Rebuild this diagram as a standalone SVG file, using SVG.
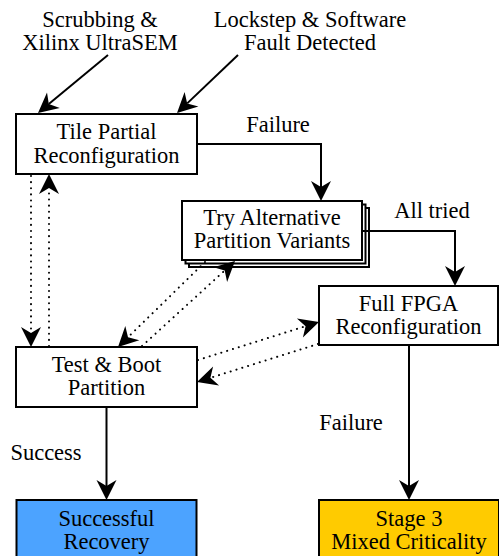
<svg xmlns="http://www.w3.org/2000/svg" width="499" height="556" viewBox="0 0 499 556">
<style>
.t{font-family:"Liberation Serif","Times New Roman",serif;font-size:22.5px;fill:#000;text-anchor:middle}
.box{fill:#fff;stroke:#000;stroke-width:2}
.ln{fill:none;stroke:#000;stroke-width:2}
.dot{fill:none;stroke:#000;stroke-width:2;stroke-dasharray:0.1 6;stroke-linecap:round}
.ah{fill:#000;stroke:none}
</style>
<g id="labels">
<text class="t" x="100" y="27">Scrubbing &amp;</text>
<text class="t" x="100" y="50">Xilinx UltraSEM</text>
<text class="t" x="310" y="27">Lockstep &amp; Software</text>
<text class="t" x="310" y="50">Fault Detected</text>
</g>
<g id="tile">
<rect class="box" x="16" y="114" width="181" height="60"/>
<text class="t" x="106.5" y="139">Tile Partial</text>
<text class="t" x="106.5" y="163">Reconfiguration</text>
</g>
<g id="try">
<rect class="box" x="189" y="208" width="180" height="59"/>
<rect class="box" x="185.5" y="204.5" width="180" height="59"/>
<rect class="box" x="182" y="201" width="180" height="59"/>
<text class="t" x="272" y="225">Try Alternative</text>
<text class="t" x="272" y="248">Partition Variants</text>
</g>
<g id="fpga">
<rect class="box" x="319" y="286" width="179" height="59"/>
<text class="t" x="408.5" y="311">Full FPGA</text>
<text class="t" x="408.5" y="334">Reconfiguration</text>
</g>
<g id="test">
<rect class="box" x="16" y="347" width="181" height="60"/>
<text class="t" x="106.5" y="372">Test &amp; Boot</text>
<text class="t" x="106.5" y="395">Partition</text>
</g>
<g id="success">
<rect x="16.5" y="500" width="180" height="60" fill="#4ca3ff" stroke="#000" stroke-width="2"/>
<text class="t" x="106.5" y="526">Successful</text>
<text class="t" x="106.5" y="549">Recovery</text>
</g>
<g id="stage3">
<rect x="319" y="500" width="180" height="60" fill="#ffcb00" stroke="#000" stroke-width="2"/>
<text class="t" x="409" y="526">Stage 3</text>
<text class="t" x="409" y="549">Mixed Criticality</text>
</g>
<g id="connectors">
<path class="ln" d="M108,55 L48.8,104.1"/>
<path class="ah" d="M38,113 L59.8,107.9 L48.8,104.1 L47.0,92.5 Z"/>
<path class="ln" d="M238,55 L187.2,103.4"/>
<path class="ah" d="M177,113 L198.4,106.5 L187.2,103.4 L184.6,92.0 Z"/>
<path class="ln" d="M197,144 L321,144 L321,187"/>
<path class="ah" d="M321,201 L311,181 L321,187 L331,181 Z"/>
<path class="ln" d="M362,231 L455,231 L455,272"/>
<path class="ah" d="M455,286 L445,266 L455,272 L465,266 Z"/>
<path class="ln" d="M106.5,407 L106.5,486"/>
<path class="ah" d="M106.5,500 L96.5,480 L106.5,486 L116.5,480 Z"/>
<path class="ln" d="M409,345 L409,486"/>
<path class="ah" d="M409,500 L399,480 L409,486 L419,480 Z"/>
<path class="dot" d="M31,176 L31,333"/>
<path class="ah" d="M31,347 L21,327 L31,333 L41,327 Z"/>
<path class="dot" d="M49,346 L49,188"/>
<path class="ah" d="M49,174 L59,194 L49,188 L39,194 Z"/>
<path class="dot" d="M205,262 L128,337.2"/>
<path class="ah" d="M118,347 L139.3,340.2 L128.0,337.2 L125.3,325.9 Z"/>
<path class="dot" d="M142,346 L224.7,270.5"/>
<path class="ah" d="M235,261 L227.1,281.9 L224.7,270.5 L213.5,267.2 Z"/>
<path class="dot" d="M198,360 L305.6,326.2"/>
<path class="ah" d="M319,322 L302.9,337.5 L305.6,326.2 L296.9,318.5 Z"/>
<path class="dot" d="M318,344 L210.4,377.8"/>
<path class="ah" d="M197,382 L219.1,385.6 L210.4,377.8 L213.1,366.5 Z"/>
<text class="t" x="278" y="132">Failure</text>
<text class="t" x="432" y="218">All tried</text>
<text class="t" x="46" y="460">Success</text>
<text class="t" x="351" y="430">Failure</text>
</g>
</svg>
